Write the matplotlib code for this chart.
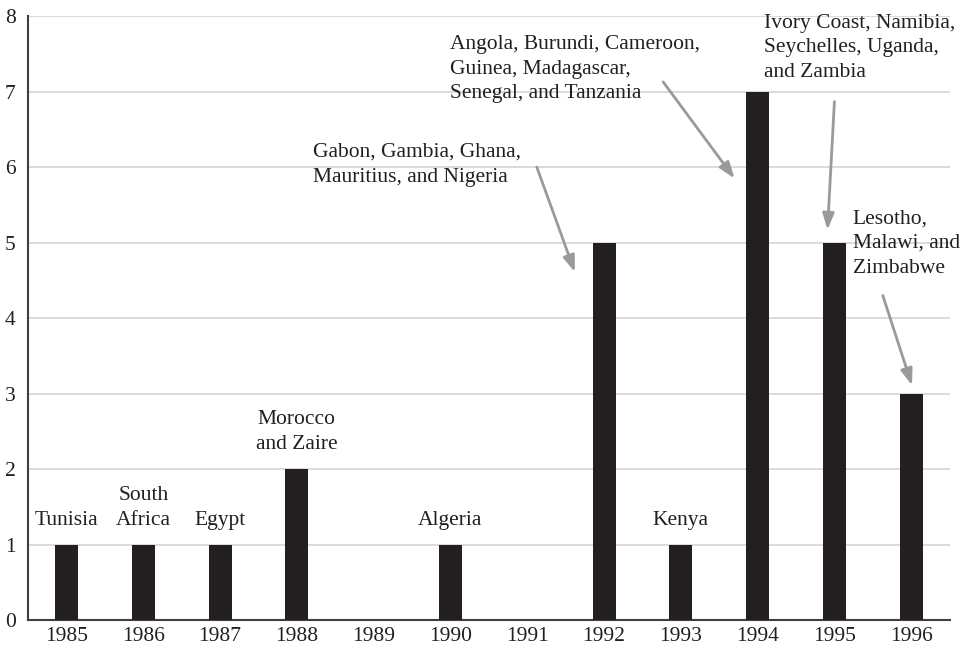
import matplotlib
matplotlib.use("Agg")
import matplotlib.pyplot as plt
import numpy as np

years = ["1985", "1986", "1987", "1988", "1989", "1990",
         "1991", "1992", "1993", "1994", "1995", "1996"]
counts = [1, 1, 1, 2, 0, 1, 0, 5, 1, 7, 5, 3]

# short labels sitting directly above their bars
above_labels = {
    0: "Tunisia",
    1: "South\nAfrica",
    2: "Egypt",
    3: "Morocco\nand Zaire",
    5: "Algeria",
    8: "Kenya",
}

# longer labels placed off to the side with an arrow: (text, text left/center, arrow start, arrow end)
callouts = [
    ("Gabon, Gambia, Ghana,\nMauritius, and Nigeria", (3.21, 6.03), (6.125, 6.0), (6.62, 4.61)),
    ("Angola, Burundi, Cameroon,\nGuinea, Madagascar,\nSenegal, and Tanzania", (4.99, 7.30), (7.77, 7.13), (8.70, 5.85)),
    ("Ivory Coast, Namibia,\nSeychelles, Uganda,\nand Zambia", (9.08, 7.58), (10.0, 6.87), (9.91, 5.17)),
    ("Lesotho,\nMalawi, and\nZimbabwe", (10.24, 4.99), (10.63, 4.30), (11.01, 3.11)),
]

plt.rcParams['font.family'] = ['Liberation Serif', 'DejaVu Serif']
plt.rcParams['font.size'] = 15.5

fig = plt.figure(figsize=(9.68, 6.5), dpi=100)
ax = fig.add_axes([0.029, 0.046, 0.952, 0.929])

x = np.arange(len(years))
ax.bar(x, counts, width=0.3, color="#231f20", zorder=3)

ax.set_xlim(-0.5, 11.5)
ax.set_ylim(0, 8)
ax.set_xticks(x)
ax.set_xticklabels(years)
ax.set_yticks(range(0, 9))
ax.tick_params(length=0, labelsize=15.5, colors="#231f20")
ax.tick_params(axis="y", pad=9)
ax.tick_params(axis="x", pad=5)

ax.yaxis.grid(True, color="#d4d4d4", linewidth=1.2, zorder=0)
ax.set_axisbelow(True)
for side in ["top", "right"]:
    ax.spines[side].set_visible(False)
ax.spines["left"].set_color("#404040")
ax.spines["left"].set_linewidth(1.5)
ax.spines["bottom"].set_color("#404040")
ax.spines["bottom"].set_linewidth(1.5)

for i, label in above_labels.items():
    ax.text(x[i], counts[i] + 0.2, label, ha="center", va="bottom",
            color="#231f20", linespacing=1.42)

for label, txy, start, end in callouts:
    ax.text(txy[0], txy[1], label, ha="left", va="center",
            color="#231f20", linespacing=1.42)
    ax.annotate("", xy=end, xytext=start,
                arrowprops=dict(arrowstyle="-|>,head_length=0.7,head_width=0.25",
                                color="#9a9a9a", lw=2, mutation_scale=14,
                                shrinkA=0, shrinkB=0))

fig.savefig("out.png", dpi=100)
